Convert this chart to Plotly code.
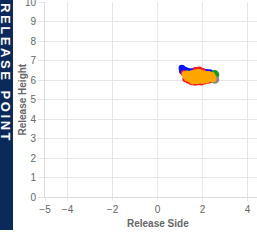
import plotly.graph_objects as go

# Release point data (Release Side, Release Height) by pitch type
blue_x = [1.08, 1.12, 1.20, 1.30, 1.42, 1.54, 1.66, 1.78, 1.92, 2.05, 2.18, 2.32, 2.45, 2.55, 2.50, 1.10]
blue_y = [6.62, 6.56, 6.52, 6.47, 6.43, 6.44, 6.48, 6.50, 6.47, 6.42, 6.40, 6.38, 6.32, 6.25, 6.15, 6.45]
red_x = [1.25, 1.38, 1.52, 1.66, 1.80, 1.95, 2.10, 2.25, 2.40, 1.70, 1.85, 2.30, 1.18, 2.00]
red_y = [6.05, 5.97, 5.90, 5.87, 5.90, 5.88, 5.93, 5.97, 6.03, 6.50, 6.52, 6.12, 6.35, 6.45]
green_x = [2.55, 2.60]
green_y = [6.34, 6.27]
gray_x = [2.60, 2.55]
gray_y = [6.03, 5.98]
orange_x = [1.22, 1.32, 1.42, 1.52, 1.62, 1.72, 1.82, 1.92, 2.02, 2.12, 2.22, 2.32, 2.42,
            1.27, 1.37, 1.47, 1.57, 1.67, 1.77, 1.87, 1.97, 2.07, 2.17, 2.27, 2.37, 2.47,
            1.42, 1.52, 1.62, 1.72, 1.82, 1.92, 2.02, 2.12, 2.22, 2.32,
            1.57, 1.77, 1.97, 2.17, 1.32, 2.47]
orange_y = [6.30, 6.32, 6.30, 6.33, 6.36, 6.38, 6.40, 6.37, 6.33, 6.30, 6.30, 6.28, 6.25,
            6.18, 6.15, 6.20, 6.22, 6.20, 6.24, 6.22, 6.18, 6.20, 6.16, 6.15, 6.14, 6.12,
            6.05, 6.02, 6.00, 5.98, 6.02, 6.00, 5.98, 6.03, 6.05, 6.06,
            5.94, 5.95, 5.97, 5.99, 6.10, 6.05]

x_ticks = [-5, -4, -2, 0, 2, 4, 5]
y_ticks = [0, 1, 2, 3, 4, 5, 6, 7, 8, 9, 10]

fig = go.Figure()
for xs, ys, col in [(blue_x, blue_y, "#0a14ff"), (red_x, red_y, "#ff1a1a"),
                    (green_x, green_y, "#1a9a1a"), (gray_x, gray_y, "#8a8a8a"),
                    (orange_x, orange_y, "#ffa500")]:
    fig.add_trace(go.Scatter(x=xs, y=ys, mode="markers",
                             marker=dict(color=col, size=6.5, line=dict(width=0)),
                             showlegend=False, hoverinfo="skip"))

W, H = 257, 240
ml, mr, mt, mb = 45, 0, 2, 43
pw, ph = W - ml - mr, H - mt - mb

axis_common = dict(showgrid=True, gridcolor="#e6e6e6", gridwidth=1,
                   showline=True, linecolor="#dcdcdc", linewidth=1,
                   ticks="outside", tickcolor="#e6e6e6",
                   tickfont=dict(family="Liberation Sans, Arial", size=10, color="#666666"),
                   zeroline=False, automargin=False, ticklabeloverflow="allow")

title_font = dict(family="Liberation Sans, Arial", size=10, color="#666666", weight="bold")

fig.update_layout(
    width=W, height=H,
    margin=dict(l=ml, r=mr, t=mt, b=mb),
    paper_bgcolor="white", plot_bgcolor="white",
    xaxis=dict(range=[-5, -5 + pw / 22.5], tickvals=x_ticks, ticklen=3, **axis_common),
    yaxis=dict(range=[0, 10], tickvals=y_ticks, ticklen=6, **axis_common),
    shapes=[dict(type="rect", xref="paper", yref="paper",
                 x0=-ml / pw, x1=(13 - ml) / pw,
                 y0=(H - mb - 230) / ph, y1=1 + mt / ph + 0.01,
                 fillcolor="#0b2a5b", line=dict(width=0), layer="above")],
    annotations=[
        dict(text="R\u2009E\u2009L\u2009E\u2009A\u2009S\u2009E\u2009\u2009\u2009\u2009P\u2009O\u2009I\u2009N\u2009T",
             textangle=90, xref="paper", yref="paper",
             x=(6 - ml) / pw, y=1 - (72 - mt) / ph,
             xanchor="center", yanchor="middle", showarrow=False,
             font=dict(family="Liberation Sans, Arial", size=13, color="white", weight="bold")),
        dict(text="Release Height", textangle=-90, xref="paper", yref="paper",
             x=(22 - ml) / pw, y=0.5, xanchor="center", yanchor="middle",
             showarrow=False, font=title_font),
        dict(text="Release Side", xref="x", yref="paper",
             x=0, y=-(223 - (H - mb)) / ph, xanchor="center", yanchor="middle",
             showarrow=False, font=title_font),
    ],
)

fig.write_html("out.html", post_script="document.body.style.margin='0';",
               config={"displayModeBar": False})
